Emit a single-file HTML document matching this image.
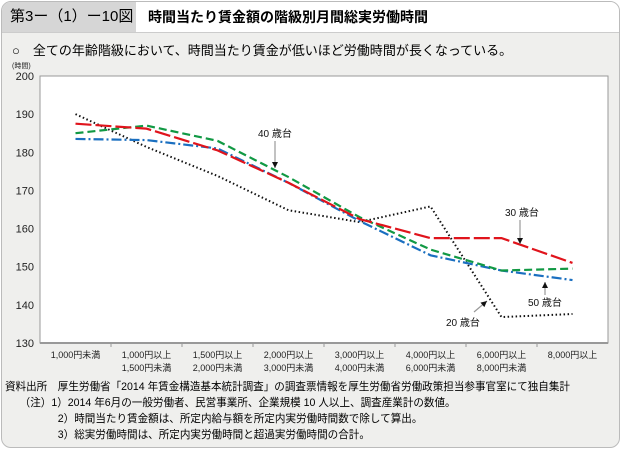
<!DOCTYPE html>
<html><head><meta charset="utf-8"><style>
body{margin:0;width:621px;height:449px;background:#fff;font-family:"Liberation Sans","Noto Sans CJK JP",sans-serif;overflow:hidden}
#frame{position:absolute;left:1px;top:1px;width:617px;height:445px;border:1px solid #bbb;border-radius:10px;background:#efefed;overflow:hidden}
#hdr{position:absolute;left:0;top:0;width:617px;height:30px;background:#fff;border-bottom:1px solid #ccc}
#hdrl{position:absolute;left:0;top:0;width:134px;height:30px;background:#d6d6d6;font-size:15px;line-height:30px;padding-left:8px;box-sizing:border-box}
#hdrt{position:absolute;left:146px;top:0;font-size:14px;font-weight:bold;line-height:30px}
.t{position:absolute;white-space:nowrap}
</style></head><body>
<div id="frame">
<div id="hdr"><div id="hdrl">第3ー（1）ー10図</div><div id="hdrt">時間当たり賃金額の階級別月間総実労働時間</div></div>
<div class="t" style="left:10px;top:38px;font-size:13px">○　全ての年齢階級において、時間当たり賃金が低いほど労働時間が長くなっている。</div>
</div>
<svg id="chart" width="621" height="449" style="position:absolute;left:0;top:0"></svg>
<div class="t" style="left:5px;top:379px;font-size:11px;line-height:16px;transform:scaleX(0.96);transform-origin:0 0">資料出所　厚生労働省「2014 年賃金構造基本統計調査」の調査票情報を厚生労働省労働政策担当参事官室にて独自集計<br>&nbsp;&nbsp;&nbsp;&nbsp;&nbsp;（注）1）2014 年6月の一般労働者、民営事業所、企業規模 10 人以上、調査産業計の数値。<br>&nbsp;&nbsp;&nbsp;&nbsp;&nbsp;&nbsp;&nbsp;&nbsp;&nbsp;&nbsp;&nbsp;&nbsp;&nbsp;&nbsp;&nbsp;&nbsp;&nbsp;&nbsp;2）時間当たり賃金額は、所定内給与額を所定内実労働時間数で除して算出。<br>&nbsp;&nbsp;&nbsp;&nbsp;&nbsp;&nbsp;&nbsp;&nbsp;&nbsp;&nbsp;&nbsp;&nbsp;&nbsp;&nbsp;&nbsp;&nbsp;&nbsp;&nbsp;3）総実労働時間は、所定内実労働時間と超過実労働時間の合計。</div>
<script>
const categories1=["1,000円未満","1,000円以上","1,500円以上","2,000円以上","3,000円以上","4,000円以上","6,000円以上","8,000円以上"];
const categories2=["","1,500円未満","2,000円未満","3,000円未満","4,000円未満","6,000円未満","8,000円未満",""];
const yTicks=[130,140,150,160,170,180,190,200];
const s20=[190,181.4,173.8,164.8,161.7,165.8,136.8,137.6];
const s30=[187.5,186.2,180.5,172,162.5,157.5,157.5,151];
const s40=[185,187,183,173.5,163,154.5,149,149.5];
const s50=[183.5,183.2,181,172,162,153,149,146.5];
const NS="http://www.w3.org/2000/svg";
const svg=document.getElementById('chart');
const X0=40,X1=608,Y0=343,Y1=76,YMIN=130,YMAX=200;
const bw=(X1-X0)/categories1.length;
const xs=i=>X0+bw*(i+0.5);
const ys=v=>Y0-(v-YMIN)/(YMAX-YMIN)*(Y0-Y1);
function el(t,a){const e=document.createElementNS(NS,t);for(const k in a)e.setAttribute(k,a[k]);svg.appendChild(e);return e;}
let r=el('rect',{x:X0,y:Y1,width:X1-X0,height:Y0-Y1,fill:'#fff',stroke:'#999','stroke-width':1});


let ax=el('line',{x1:X0,x2:X1,y1:Y0,y2:Y0,stroke:'#999','stroke-width':2});


yTicks.forEach(v=>{const t=el('text',{x:X0-6,y:ys(v)+4,'font-size':11,'text-anchor':'end',fill:'#222'});t.textContent=v;

});
let u=el('text',{x:12,y:68,'font-size':7,fill:'#222'});u.textContent='(時間)';


categories1.forEach((c,i)=>{
 if(i>0){const tk=el('line',{x1:X0+bw*i,x2:X0+bw*i,y1:Y0,y2:Y0+4,stroke:'#999'});}
 const t=el('text',{x:xs(i),y:Y0+15,'font-size':9,'text-anchor':'middle',fill:'#222'});t.textContent=c;
 
 
 if(categories2[i]){const t2=el('text',{x:xs(i),y:Y0+28,'font-size':9,'text-anchor':'middle',fill:'#222'});t2.textContent=categories2[i];
 
 }
});
function line(d,col,dash,name,w){const p=el('polyline',{points:d.map((v,i)=>xs(i)+','+ys(v)).join(' '),fill:'none',stroke:col,'stroke-width':w||2.2,'stroke-dasharray':dash});

}
line(s20,'#111','1.5 2.5','line-20s',2);
line(s50,'#1a6fc0','10 3 2 3','line-50s');
line(s40,'#119944','8 4','line-40s');
line(s30,'#e0141c','16 4','line-30s');
function lab(x,y,txt,name){const t=el('text',{x:x,y:y,'font-size':10,fill:'#111'});t.textContent=txt;}
function arr(x1,y1,x2,y2){el('line',{x1:x1,y1:y1,x2:x2,y2:y2,stroke:'#999','stroke-width':1.2});
 const a=Math.atan2(y2-y1,x2-x1),L=6;
 el('polygon',{points:`${x2},${y2} ${x2-L*Math.cos(a)+3*Math.sin(a)},${y2-L*Math.sin(a)-3*Math.cos(a)} ${x2-L*Math.cos(a)-3*Math.sin(a)},${y2-L*Math.sin(a)+3*Math.cos(a)}`,fill:'#111'});}
lab(258,137,'40 歳台','label-40s');arr(275,141,275,168);
lab(505,216,'30 歳台','label-30s');arr(520,220,520,244);
lab(528,306,'50 歳台','label-50s');arr(545,295,545,282);
lab(446,326,'20 歳台','label-20s');arr(474,312,487,301);
</script>
</body></html>
